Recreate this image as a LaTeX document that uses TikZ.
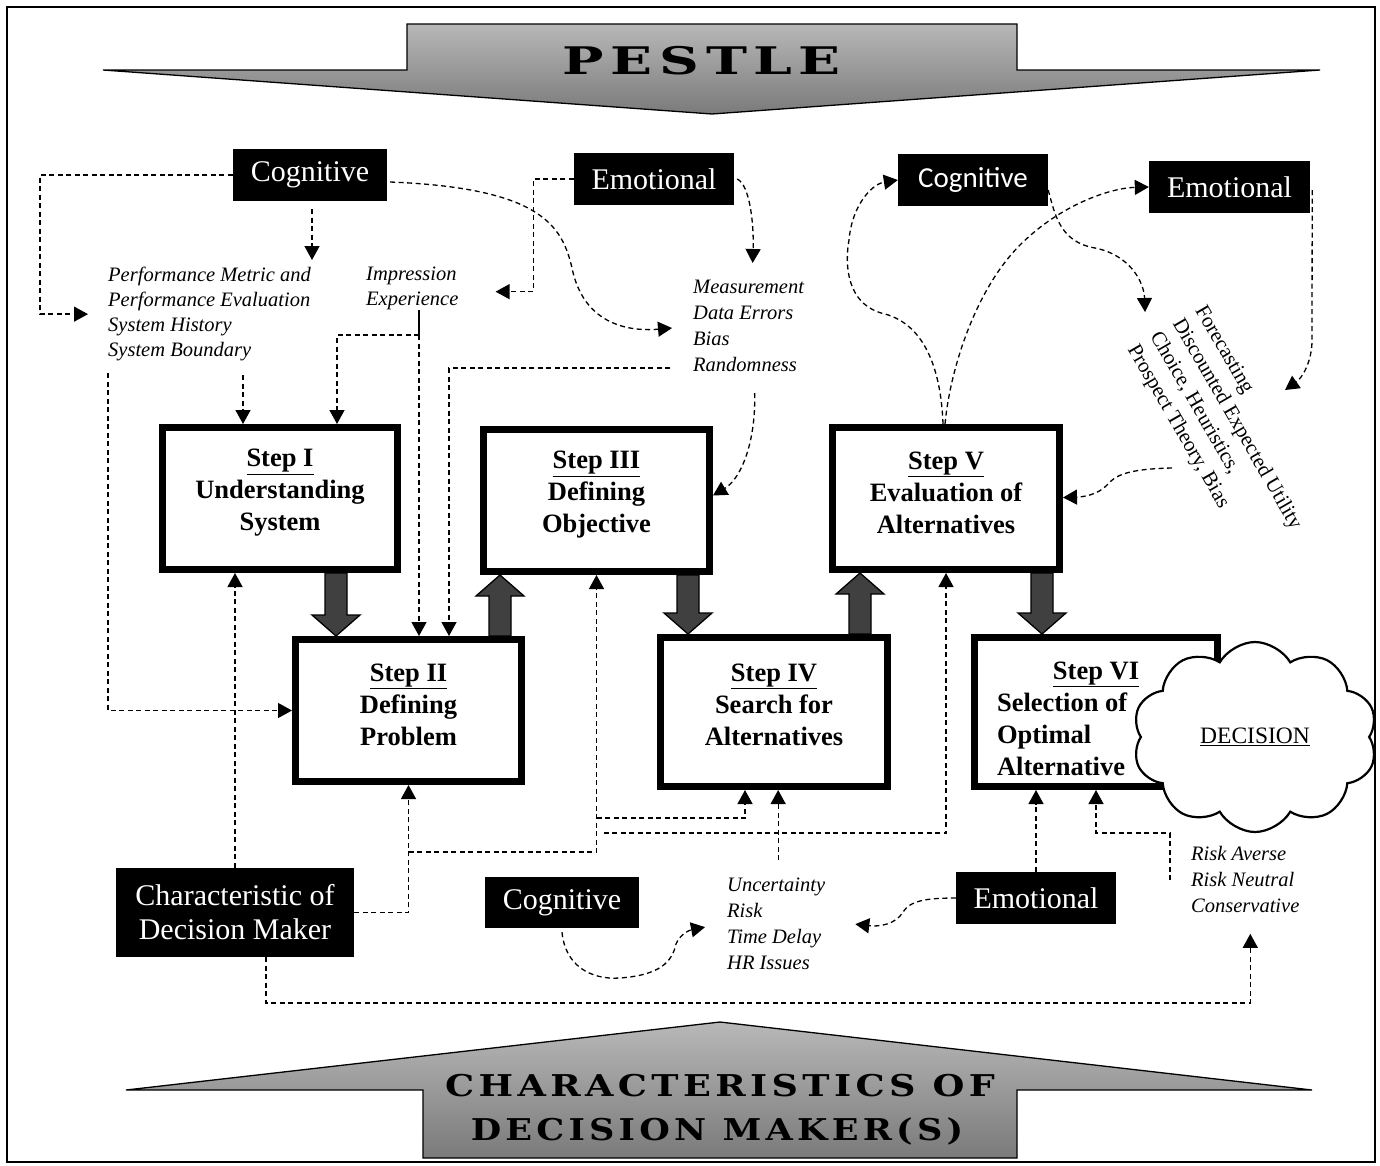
\documentclass[tikz,border=0pt]{standalone}
\usepackage{graphicx}
\usepackage{fontspec}
\setmainfont{Liberation Serif}
\newfontfamily\calibfont{Carlito}
\newfontfamily\bannerfont[LetterSpace=12]{DejaVu Serif}
\usetikzlibrary{arrows.meta,shapes.symbols,calc}

\tikzset{
  blk/.style={fill=black,text=white,inner sep=0pt,align=center,
    font=\fontsize{30}{34}\selectfont},
  stepbox/.style={draw=black,line width=7pt,fill=white,inner sep=0pt},
  steptext/.style={inner sep=0pt,align=center,
    font=\fontsize{26.5}{32}\bfseries\selectfont},
  note/.style={inner sep=0pt,align=left,anchor=north west,
    font=\fontsize{20.5}{25}\itshape\selectfont},
  note26/.style={note,font=\fontsize{20.5}{26}\itshape\selectfont},
  dl/.style={line width=1.3pt,dash pattern=on 5pt off 3.5pt,
    -{Triangle[width=15pt,length=14pt]}},
  fat/.style={fill=black!75,draw=black,line width=1.3pt},
  banner/.style={draw=black,line width=1.3pt,top color=black!28,bottom color=black!52},
  bannertext/.style={inner sep=0pt,font=\bannerfont\bfseries\fontsize{#1}{#1}\selectfont},
}

% broad hollow arrow between two process boxes (vertical, start -> end)
\newcommand\fatarrow[2]{%
  \filldraw[fat] let \p1=#1, \p2=#2, \n1={sign(\y2-\y1)} in
    ({\x1-11pt},\y1) -- ({\x1-11pt},{\y2-(\n1)*21pt}) -- ({\x1-24pt},{\y2-(\n1)*21pt})
    -- (\x1,\y2) -- ({\x1+24pt},{\y2-(\n1)*21pt}) -- ({\x1+11pt},{\y2-(\n1)*21pt})
    -- ({\x1+11pt},\y1) -- cycle;}

\begin{document}
\begin{tikzpicture}[x=1pt,y=-1pt]
\useasboundingbox (0,0) rectangle (1380,1165);
\draw[line width=1.5pt] (7,7) rectangle (1375,1162);

% ---------- banners ----------
\shade[banner] (407,24) -- (1017,24) -- (1017,70) -- (1320,70) -- (712,114)
  -- (103,70) -- (407,70) -- cycle;
\node[bannertext=38] (pestle) at (702,61) {\scalebox{1.45}[1]{PESTLE}};

\shade[banner] (720,1022) -- (1312,1090) -- (1017,1090) -- (1017,1158)
  -- (423,1158) -- (423,1090) -- (126,1090) -- cycle;
\node[bannertext=30] (cdmA) at (720,1086) {\scalebox{1.22}[1]{CHARACTERISTICS OF}};
\node[bannertext=30] (cdmB) at (717,1131) {\scalebox{1.17}[1]{DECISION MAKER(S)}};

% ---------- process steps ----------
\node[stepbox,minimum width=235pt,minimum height=142pt] (stepI) at (280,498.5) {};
\node[steptext] (stepIt) at (280,493) {\underline{Step I}\\Understanding\\System};
\node[stepbox,minimum width=226pt,minimum height=142pt] (stepII) at (408.5,710.5) {};
\node[steptext] (stepIIt) at (408.5,705) {\underline{Step II}\\Defining\\Problem};
\node[stepbox,minimum width=226pt,minimum height=142pt] (stepIII) at (596.5,500.5) {};
\node[steptext] (stepIIIt) at (596.5,495) {\underline{Step III}\\Defining\\Objective};
\node[stepbox,minimum width=227pt,minimum height=149pt] (stepIV) at (774,712) {};
\node[steptext] (stepIVt) at (774,705) {\underline{Step IV}\\Search for\\Alternatives};
\node[stepbox,minimum width=227pt,minimum height=142pt] (stepV) at (946,498.5) {};
\node[steptext] (stepVt) at (946,493) {\underline{Step V}\\Evaluation of\\Alternatives};
\node[stepbox,minimum width=243pt,minimum height=149pt] (stepVI) at (1096,712) {};
\node[steptext,align=left] (stepVIt) at (1096,719)
  {\makebox[198pt][c]{\underline{Step VI}}\\Selection of\\Optimal\\Alternative};

\node[cloud,cloud puffs=10,cloud puff arc=120,cloud ignores aspect,
  minimum width=245pt,minimum height=190pt,draw=black,line width=2.2pt,
  fill=white,inner sep=0pt,font=\fontsize{23.5}{28}\selectfont]
  (decision) at (1255,737) {\underline{DECISION}};

\fatarrow{(336,0 |- stepI.south)}{(336,0 |- stepII.north)}
\fatarrow{(500,0 |- stepII.north)}{(500,0 |- stepIII.south)}
\fatarrow{(688,0 |- stepIII.south)}{(688,0 |- stepIV.north)}
\fatarrow{(860,0 |- stepIV.north)}{(860,0 |- stepV.south)}
\fatarrow{(1042,0 |- stepV.south)}{(1042,0 |- stepVI.north)}

% ---------- influence labels ----------
\node[blk,minimum width=154pt,minimum height=52pt] (cogA) at (310,175) {Cognitive};
\node[blk,minimum width=160pt,minimum height=52pt] (emoA) at (654,179) {Emotional};
\node[blk,minimum width=150pt,minimum height=52pt,
  font=\calibfont\fontsize{29}{34}\selectfont] (cogB) at (973,180) {Cognitive};
\node[blk,minimum width=161pt,minimum height=52pt] (emoB) at (1229.5,187) {Emotional};
\node[blk,minimum width=238pt,minimum height=89pt] (dm) at (235,912.5)
  {Characteristic of\\Decision Maker};
\node[blk,minimum width=154pt,minimum height=51pt] (cogC) at (562,902.5) {Cognitive};
\node[blk,minimum width=160pt,minimum height=52pt] (emoC) at (1036,898) {Emotional};

% ---------- factor lists ----------
\node[note] (perf) at (108,267)
  {Performance Metric and\\Performance Evaluation\\System History\\System Boundary};
\node[note] (impr) at (366,267) {Impression\\Experience};
\node[note26] (meas) at (693,280) {Measurement\\Data Errors\\Bias\\Randomness};
\node[note26] (uncert) at (727,878) {Uncertainty\\Risk\\Time Delay\\HR Issues};
\node[note26] (risk) at (1191,846) {Risk Averse\\Risk Neutral\\Conservative};
\node[rotate=-60,anchor=north west,inner sep=0pt,align=left,
  font=\fontsize{21}{26}\selectfont] (fc) at (1207,303)
  {Forecasting\\Discounted Expected Utility\\Choice, Heuristics,\\Prospect Theory, Bias};

% ---------- dashed influences ----------
\coordinate (jI) at (419,335);
\coordinate (fcA) at (1145,312);
\coordinate (fcB) at (1285,390);
\coordinate (fcC) at (1172,468);

\draw[dl] (cogA.west) -| ([xshift=-68pt]perf.west) -- ([xshift=-20pt]perf.west);
\draw[dl] ([xshift=2pt,yshift=-8pt]cogA.south) -- ([xshift=2pt,yshift=7pt]perf.north -| cogA.south);
\draw[dl] ([xshift=3pt,yshift=-7pt]cogA.east) .. controls (540,188) and (562,225) .. (572,268)
  .. controls (583,322) and (625,332) .. ([xshift=-21pt,yshift=-2pt]meas.west);

\draw[dl] (emoA.west) -| ([xshift=75pt,yshift=-3pt]impr.east) -- ([xshift=37pt,yshift=-3pt]impr.east);
\draw[dl] ([xshift=3pt]emoA.east) .. controls (750,185) and (754,225) .. ([xshift=4pt,yshift=17pt]meas.north);

\draw[line width=1.3pt] (jI |- impr.south) -- (jI);
\draw[dl] (jI) -| ([xshift=57pt]stepI.north);
\draw[dl] (jI) -- (jI |- stepII.north);

\draw[dl] ([xshift=135pt,yshift=-14pt]perf.south west) -- ([xshift=-37pt]stepI.north);
\draw[dl] ([yshift=-12pt]perf.south west) |- (stepII.west);

\draw[dl] ([xshift=-23pt,yshift=4pt]meas.south west) -| ([xshift=40.5pt]stepII.north);
\draw[dl] ([xshift=6pt,yshift=-21pt]meas.south) .. controls (756,440) and (742,478) .. ([yshift=5pt]stepIII.east);

\draw[dl] ([xshift=-3pt]stepV.north) .. controls (941,370) and (925,325) .. (885,314)
  .. controls (845,305) and (845,262) .. (849,240) .. controls (852,205) and (872,184) .. (cogB.west);
\draw[dl] ([xshift=-1pt]stepV.north) .. controls (950,370) and (975,290) .. (1020,245)
  .. controls (1060,205) and (1110,188) .. (emoB.west);

\draw[dl] ([yshift=-10pt]cogB.east) .. controls (1055,215) and (1060,242) .. (1095,248)
  .. controls (1130,255) and (1144,282) .. (fcA);
\draw[dl] ([xshift=2pt,yshift=-3pt]emoB.east) -- (1312,340) .. controls (1312,362) and (1302,378) .. (fcB);
\draw[dl] (fcC) .. controls (1125,469) and (1115,476) .. (1107,485)
  .. controls (1098,495) and (1082,497) .. ([yshift=1pt]stepV.east);

\draw[dl] (dm.north) -- (dm.north |- stepI.south);
\draw[dl] (dm.east) -| (stepII.south);
\draw[dl] ([yshift=-67pt]stepII.south) -| (stepIII.south);
\draw[dl] ([yshift=-243pt]stepIII.south) -| ([xshift=-29pt]stepIV.south);
\draw[dl] ([xshift=7pt,yshift=-258pt]stepIII.south) -| (stepV.south);
\draw[dl] ([xshift=2pt,yshift=18pt]uncert.north) -- ([xshift=2pt]uncert.north |- stepIV.south);
\draw[dl] ([xshift=31pt]dm.south) |- ([xshift=5pt,yshift=-90pt]risk.south) -- ([xshift=5pt,yshift=-21pt]risk.south);

\draw[dl] ([yshift=-4pt]cogC.south) .. controls (565,965) and (590,980) .. (620,978)
  .. controls (660,975) and (672,962) .. (676,944)
  .. controls (680,934) and (690,930) .. ([xshift=-22pt,yshift=-3pt]uncert.west);
\draw[dl] (emoC.west) .. controls (925,898) and (910,901) .. (903,912)
  .. controls (896,924) and (880,927) .. ([xshift=30pt]uncert.east);
\draw[dl] (emoC.north) -- (emoC.north |- stepVI.south);
\draw[dl] ([xshift=-21pt,yshift=-34pt]risk.north west) |- ([yshift=-43pt]stepVI.south) -- (stepVI.south);
\end{tikzpicture}
\end{document}
